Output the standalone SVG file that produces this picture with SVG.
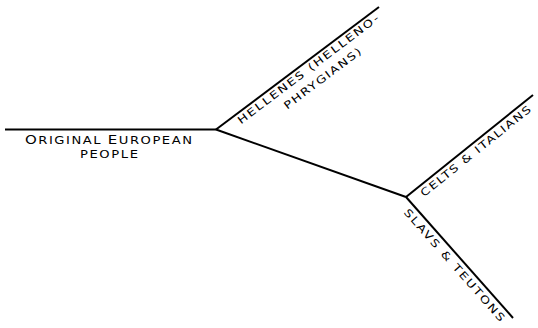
<svg xmlns="http://www.w3.org/2000/svg" width="538" height="328" viewBox="0 0 538 328">
<style>
.ln{stroke:#000;stroke-width:2;fill:none;stroke-linecap:butt}
.t{font-family:"DejaVu Sans","Liberation Sans",sans-serif;font-size:10.5px;fill:#000}
.b{font-size:12px}
</style>
<rect width="538" height="328" fill="#fff"/>
<g id="connectors">
<line class="ln" x1="5" y1="129.5" x2="216" y2="129.5"/>
<line class="ln" x1="216" y1="129.5" x2="379" y2="7"/>
<line class="ln" x1="216" y1="129.5" x2="406" y2="197"/>
<line class="ln" x1="406" y1="197" x2="533" y2="95"/>
<line class="ln" x1="406" y1="197" x2="513" y2="318"/>
</g>
<g id="original" transform="scale(1.25 1)">
<text class="t" x="20" y="144" textLength="133.6" lengthAdjust="spacing"><tspan class="b">O</tspan>RIGINAL <tspan class="b">E</tspan>UROPEAN</text>
<text class="t" x="64" y="158" textLength="46.4" lengthAdjust="spacing">PEOPLE</text>
</g>
<g id="hellenes" transform="translate(216 129.5) rotate(-37.03) scale(1.25 1)">
<text class="t" x="18.4" y="11" textLength="139.2" lengthAdjust="spacing">HELLENES (HELLENO-</text>
<text class="t" x="55" y="27" textLength="75.2" lengthAdjust="spacing">PHRYGIANS)</text>
</g>
<g id="celts" transform="translate(406 197) rotate(-38.77) scale(1.25 1)">
<text class="t" x="11.2" y="11.5" textLength="110.4" lengthAdjust="spacing">CELTS &amp; ITALIANS</text>
</g>
<g id="slavs" transform="translate(406 197) rotate(48.52) scale(1.25 1)">
<text class="t" x="8" y="12.5" textLength="116.8" lengthAdjust="spacing">SLAVS &amp; TEUTONS</text>
</g>
</svg>
